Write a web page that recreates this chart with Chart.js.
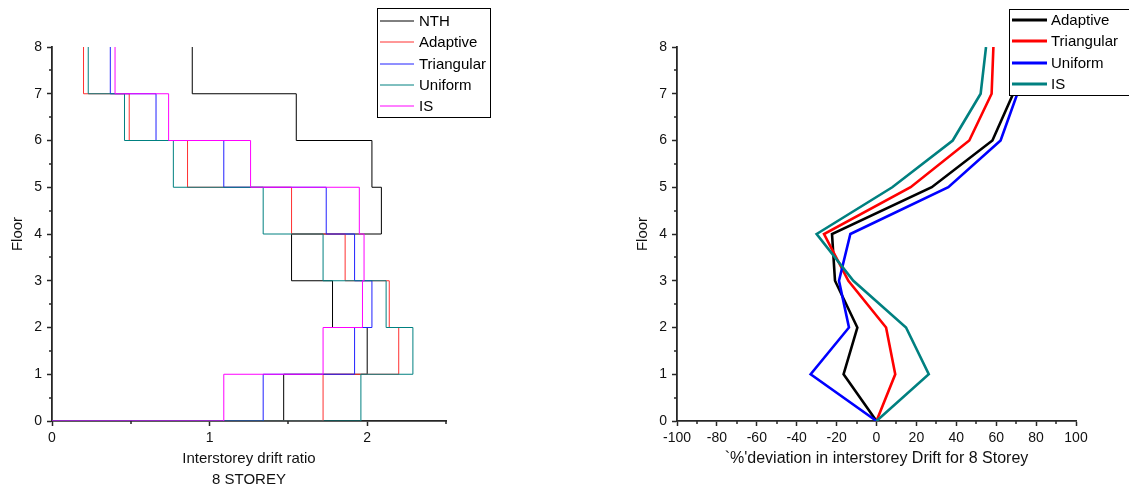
<!DOCTYPE html>
<html><head><meta charset="utf-8">
<script src="https://cdn.jsdelivr.net/npm/chart.js@4/dist/chart.umd.min.js"></script>
<style>
html,body{margin:0;padding:0;background:#fff;width:1129px;height:491px;overflow:hidden}
#w1{position:absolute;left:0;top:0;width:560px;height:491px}
#w2{position:absolute;left:560px;top:0;width:569px;height:491px}
</style></head><body>
<div id="w1"><canvas id="c1"></canvas></div>
<div id="w2"><canvas id="c2"></canvas></div>
<script>
// ---- Data ----
const floors = [0, 1, 2, 3, 4, 5, 6, 7, 8];
// Left chart: interstorey drift ratio per storey (storey 1 .. 8)
const nthDrift        = [1.47, 2.00, 1.78, 1.52, 2.09, 2.03, 1.55, 0.89];
const adaptiveDrift   = [1.72, 2.20, 2.14, 1.86, 1.52, 0.86, 0.49, 0.20];
const triangularDrift = [1.34, 1.92, 2.03, 1.92, 1.74, 1.09, 0.66, 0.37];
const uniformDrift    = [1.96, 2.29, 2.12, 1.72, 1.34, 0.77, 0.46, 0.23];
const isDrift         = [1.09, 1.72, 1.97, 1.98, 1.95, 1.26, 0.74, 0.40];
// Right chart: % deviation at floors 0 .. 8
const adaptiveDev   = [0, -16.5, -9.6, -20.8, -22.3, 27.7, 58.1, 68.5, 77];
const triangularDev = [0, 9.4, 4.8, -14.1, -26.3, 17.1, 46.5, 57.7, 58.6];
const uniformDev    = [0, -33.0, -13.8, -18.8, -13.1, 36.0, 62.2, 70.6, 74];
const isDev         = [0, 26.2, 14.8, -11.6, -30.0, 7.9, 38.2, 52.2, 54.9];
// Ticks
const leftXMinor  = [0.5, 1.5, 2.5];
const rightXMinor = [-90, -70, -50, -30, -10, 10, 30, 50, 70, 90];
const yMinor      = [0.5, 1.5, 2.5, 3.5, 4.5, 5.5, 6.5, 7.5];

const FONT = "'Liberation Sans', Arial, sans-serif";
const AXIS = '#262626';

function stepPoints(vals) {
  const pts = [{x: 0, y: floors[0]}];
  vals.forEach((v, i) => { pts.push({x: v, y: floors[i]}); pts.push({x: v, y: floors[i + 1]}); });
  return pts;
}
function linePoints(vals) { return vals.map((v, i) => ({x: v, y: floors[i]})); }

const minorTicks = {
  id: 'minorTicks',
  afterDraw(chart, args, o) {
    const ctx = chart.ctx, xs = chart.scales.x, ys = chart.scales.y;
    ctx.save(); ctx.strokeStyle = AXIS; ctx.lineWidth = 1.5;
    o.x.forEach(v => { const p = Math.round(xs.getPixelForValue(v)); ctx.beginPath(); ctx.moveTo(p, xs.top); ctx.lineTo(p, xs.top + 3); ctx.stroke(); });
    o.y.forEach(v => { const p = Math.round(ys.getPixelForValue(v)); ctx.beginPath(); ctx.moveTo(ys.right, p); ctx.lineTo(ys.right - 3, p); ctx.stroke(); });
    ctx.restore();
  }
};
const boxLegend = {
  id: 'boxLegend',
  afterDraw(chart, args, o) {
    const ctx = chart.ctx;
    ctx.save();
    ctx.fillStyle = '#fff'; ctx.fillRect(o.x, o.y, o.w, o.h);
    ctx.strokeStyle = '#000'; ctx.lineWidth = 1; ctx.strokeRect(o.x + 0.5, o.y + 0.5, o.w, o.h);
    ctx.font = o.font; ctx.textBaseline = 'middle'; ctx.textAlign = 'left';
    chart.data.datasets.forEach((ds, i) => {
      const y = Math.round(o.y + o.first + i * o.step);
      ctx.strokeStyle = ds.borderColor; ctx.lineWidth = o.lw;
      ctx.beginPath(); ctx.moveTo(o.x + o.l1, y); ctx.lineTo(o.x + o.l2, y); ctx.stroke();
      ctx.fillStyle = '#000'; ctx.fillText(ds.label, o.x + o.tx, y + 1);
    });
    ctx.restore();
  }
};

function axisCommon() {
  return {
    border: {display: true, color: AXIS, width: 1.8},
    grid: {display: true, drawOnChartArea: false, drawTicks: true, tickLength: 5, color: AXIS, tickColor: AXIS, tickWidth: 1.5},
    ticks: {color: '#111', font: {family: FONT, size: 14}, padding: 4, includeBounds: false}
  };
}

// ---- Left chart ----
const lx = axisCommon();
Object.assign(lx, {
  type: 'linear', min: 0, max: 2.5,
  afterFit(s) { s.height = 70; },
  title: {display: true, text: ['Interstorey drift ratio', '8 STOREY'], color: '#111',
          font: {family: FONT, size: 15, lineHeight: 1.4}, padding: {top: 0, bottom: 0.5}}
});
lx.ticks.stepSize = 1;
const ly = axisCommon();
Object.assign(ly, {
  type: 'linear', min: 0, max: 8,
  afterFit(s) { s.width = 52; },
  title: {display: true, text: 'Floor', color: '#111', font: {family: FONT, size: 15, lineHeight: 1.2}, padding: {top: 9, bottom: 0}}
});
ly.ticks.stepSize = 1;
ly.ticks.padding = 5;

new Chart(document.getElementById('c1'), {
  type: 'scatter',
  data: {datasets: [
    {label: 'NTH', data: stepPoints(nthDrift), borderColor: '#000000', order: 4},
    {label: 'Adaptive', data: stepPoints(adaptiveDrift), borderColor: '#ff3030', order: 3},
    {label: 'Triangular', data: stepPoints(triangularDrift), borderColor: '#2020ff', order: 2},
    {label: 'Uniform', data: stepPoints(uniformDrift), borderColor: '#008080', order: 1},
    {label: 'IS', data: stepPoints(isDrift), borderColor: '#ff00ff', order: 0}
  ].map(d => Object.assign(d, {showLine: true, pointRadius: 0, borderWidth: 1, tension: 0, fill: false}))},
  options: {
    responsive: true, maintainAspectRatio: false, animation: false, devicePixelRatio: 1,
    layout: {padding: {left: 0, right: 114, top: 47, bottom: 0}},
    scales: {x: lx, y: ly},
    plugins: {
      legend: {display: false}, tooltip: {enabled: false},
      minorTicks: {x: leftXMinor, y: yMinor},
      boxLegend: {x: 377, y: 8, w: 113, h: 109, first: 13, step: 21.3, l1: 3, l2: 37, tx: 42, lw: 1, font: '15px ' + FONT}
    }
  },
  plugins: [minorTicks, boxLegend]
});

// ---- Right chart ----
const rx = axisCommon();
Object.assign(rx, {
  type: 'linear', min: -100, max: 100,
  afterFit(s) { s.height = 70; },
  title: {display: true, text: "`%'deviation in interstorey Drift for 8 Storey", color: '#111',
          font: {family: FONT, size: 16, lineHeight: 1.2}, padding: {top: 0, bottom: 23}}
});
rx.ticks.stepSize = 20;
const ry = axisCommon();
Object.assign(ry, {
  type: 'linear', min: 0, max: 8,
  afterFit(s) { s.width = 117; },
  title: {display: true, text: 'Floor', color: '#111', font: {family: FONT, size: 15, lineHeight: 1.2}, padding: {top: 74, bottom: 0}}
});
ry.ticks.stepSize = 1;
ry.ticks.padding = 5;

new Chart(document.getElementById('c2'), {
  type: 'scatter',
  data: {datasets: [
    {label: 'Adaptive', data: linePoints(adaptiveDev), borderColor: '#000000', order: 3},
    {label: 'Triangular', data: linePoints(triangularDev), borderColor: '#ff0000', order: 2},
    {label: 'Uniform', data: linePoints(uniformDev), borderColor: '#0000ff', order: 1},
    {label: 'IS', data: linePoints(isDev), borderColor: '#008080', order: 0}
  ].map(d => Object.assign(d, {showLine: true, pointRadius: 0, borderWidth: 2.6, tension: 0, fill: false}))},
  options: {
    responsive: true, maintainAspectRatio: false, animation: false, devicePixelRatio: 1,
    layout: {padding: {left: 0, right: 53, top: 47, bottom: 0}},
    scales: {x: rx, y: ry},
    plugins: {
      legend: {display: false}, tooltip: {enabled: false},
      minorTicks: {x: rightXMinor, y: yMinor},
      boxLegend: {x: 449, y: 9, w: 140, h: 86, first: 11, step: 21.3, l1: 3, l2: 38, tx: 42, lw: 3, font: '15px ' + FONT}
    }
  },
  plugins: [minorTicks, boxLegend]
});
</script>
</body></html>
